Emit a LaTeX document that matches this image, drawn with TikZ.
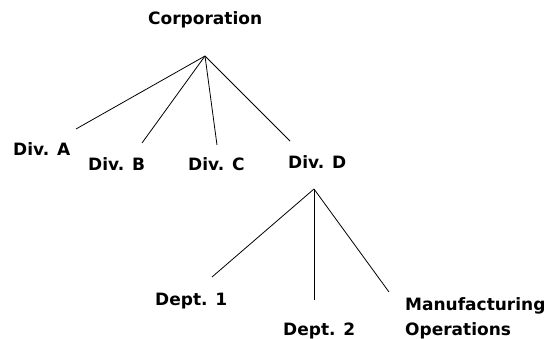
\documentclass[tikz,border=0pt]{standalone}
\usepackage{fontspec}
\setmainfont{DejaVu Sans}
\begin{document}
\begin{tikzpicture}[x=1pt,y=-1pt,
  lbl/.style={anchor=base west,inner sep=0pt,font=\bfseries\fontsize{17}{25}\selectfont},
  conn/.style={draw=black,line width=0.8pt}]
\useasboundingbox[fill=white] (0,0) rectangle (551,339);
% labels
\node[lbl] (corp) at (148,24.5) {Corporation};
\node[lbl] (diva) at (13,156) {Div. A};
\node[lbl] (divb) at (88,171) {Div. B};
\node[lbl] (divc) at (188,171) {Div. C};
\node[lbl] (divd) at (288,168) {Div. D};
\node[lbl] (dep1) at (155,305.5) {Dept. 1};
\node[lbl] (dep2) at (283,335.5) {Dept. 2};
\node[lbl,align=left] (manu) at (405,335.5) {Manufacturing\\Operations};
% branch points and line ends
\coordinate (top) at (205,56);
\coordinate (ea) at (76,129);
\coordinate (eb) at (142,143);
\coordinate (ec) at (217,145);
\coordinate (ed) at (290,141);
\coordinate (topd) at (314,189);
\coordinate (e1) at (212,277);
\coordinate (e2) at (314,300);
\coordinate (em) at (389,292);
% connectors
\draw[conn] (top) -- (ea);
\draw[conn] (top) -- (eb);
\draw[conn] (top) -- (ec);
\draw[conn] (top) -- (ed);
\draw[conn] (topd) -- (e1);
\draw[conn] (topd) -- (e2);
\draw[conn] (topd) -- (em);
\end{tikzpicture}
\end{document}
